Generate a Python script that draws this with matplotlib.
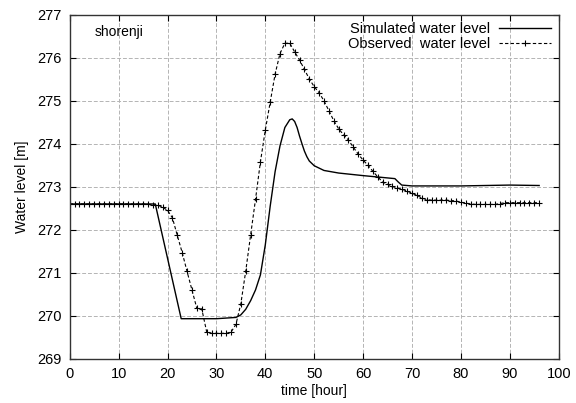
import numpy as np
import matplotlib
matplotlib.use("Agg")
import matplotlib.pyplot as plt

plt.rcParams['font.family'] = ['Liberation Sans', 'DejaVu Sans']

# simulated water level
sim_time = [0, 17.5, 22.8, 30, 34, 35, 36, 37, 38, 39, 40, 41, 42, 43, 44,
            45, 45.5, 46, 46.5, 47, 47.5, 48, 48.5, 49, 50, 52, 55, 60, 66.5,
            67.2, 67.9, 70, 80, 85, 90, 96]
sim_level = [272.6, 272.6, 269.93, 269.93, 269.96, 270.02, 270.15, 270.35,
             270.6, 270.95, 271.65, 272.55, 273.35, 273.95, 274.38, 274.56,
             274.58, 274.52, 274.38, 274.18, 274.0, 273.83, 273.7, 273.6,
             273.49, 273.38, 273.32, 273.26, 273.19, 273.11, 273.04, 273.02,
             273.02, 273.03, 273.04, 273.03]

# observed water level, hourly 0..96
obs_time = list(range(97))
obs_level = [272.6] * 16 + [
    272.59, 272.58, 272.57, 272.53, 272.45, 272.28, 271.87, 271.47,
    271.03, 270.6, 270.17, 270.16, 269.63, 269.59, 269.59, 269.59,
    269.59, 269.62, 269.8, 270.28, 271.04, 271.88, 272.71, 273.58,
    274.32, 274.97, 275.62, 276.1, 276.34, 276.34, 276.14, 275.95,
    275.73, 275.51, 275.33, 275.19, 275.0, 274.77, 274.54, 274.35,
    274.21, 274.09, 273.92, 273.76, 273.62, 273.5, 273.36, 273.23,
    273.11, 273.06, 273.01, 272.97, 272.94, 272.9, 272.85, 272.8,
    272.74, 272.7, 272.69, 272.69, 272.69, 272.69, 272.68, 272.67,
    272.64, 272.62, 272.6, 272.59, 272.59, 272.59, 272.59, 272.59,
    272.61, 272.63, 272.63, 272.63, 272.63, 272.63, 272.63, 272.63,
    272.63]

fig = plt.figure(figsize=(5.76, 4.03), dpi=100)
ax = fig.add_axes([0.121, 0.110, 0.849, 0.853])

ax.plot(sim_time, sim_level, color='black', lw=1.0, label='Simulated water level')
ax.plot(obs_time, obs_level, color='black', lw=0.8, ls=(0, (3, 2)),
        marker='+', ms=5, mew=0.8, label='Observed  water level')

ax.set_xlim(0, 100)
ax.set_ylim(269, 277)
ax.set_xticks(np.arange(0, 101, 10))
ax.set_yticks(np.arange(269, 278, 1))
ax.grid(True, color='#b4b4b4', ls=(0, (4, 2)), lw=0.7)
ax.tick_params(direction='in', length=4, width=0.8, top=True, right=True,
               labelsize=10.5, pad=6, colors='black')
for s in ax.spines.values():
    s.set_linewidth(1.0)
    s.set_color('#333333')

ax.set_xlabel('time [hour]', fontsize=10, labelpad=2)
ax.set_ylabel('Water level [m]', fontsize=10, labelpad=6)
ax.text(0.052, 0.95, 'shorenji', transform=ax.transAxes, fontsize=10,
        va='center', ha='left')

ax.legend(loc='upper right', frameon=False, markerfirst=False, numpoints=1,
          fontsize=10.5, handlelength=3.6, handletextpad=0.6,
          borderaxespad=0.3, labelspacing=0.05, borderpad=0.2)

fig.savefig('out.png', dpi=100)
